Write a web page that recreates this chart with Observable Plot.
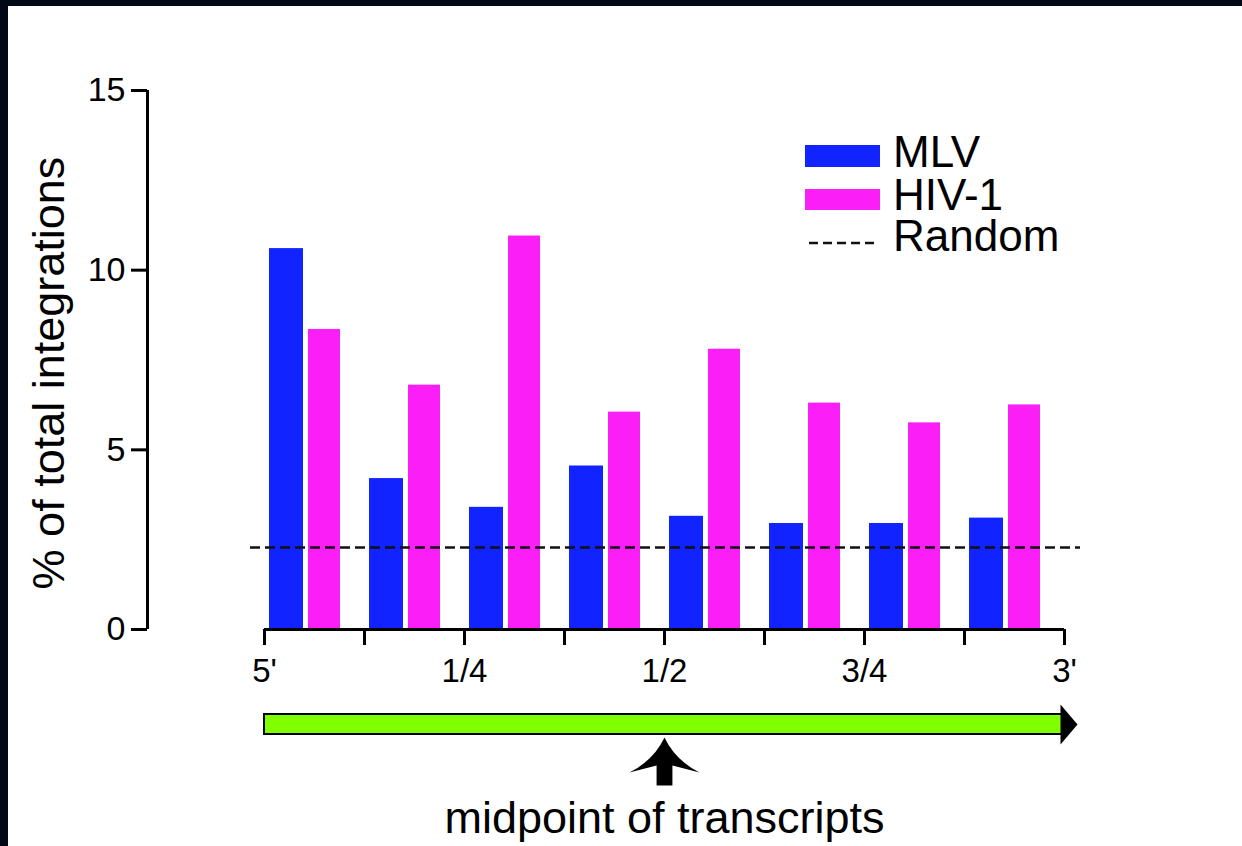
<!DOCTYPE html>
<html>
<head>
<meta charset="utf-8">
<script src="https://cdn.jsdelivr.net/npm/d3@7"></script>
<script src="https://cdn.jsdelivr.net/npm/@observablehq/plot@0.6"></script>
<style>
  html, body { margin: 0; padding: 0; background: #020816; width: 1242px; height: 846px; overflow: hidden; }
  #frame { position: absolute; left: 8px; top: 6px; width: 1234px; height: 840px; background: #fff; overflow: hidden;
           font-family: "Liberation Sans", Arial, Helvetica, sans-serif; color: #000; }
  #chart, #gene { position: absolute; left: 0; }
  #chart { top: 0; }
  #gene { top: 690px; }
  #ytitle { position: absolute; left: -209px; top: 342px; width: 500px; height: 50px; line-height: 50px;
            font-size: 45px; text-align: center; white-space: nowrap; transform: rotate(-90deg); }
  .legend-row { position: absolute; left: 797px; height: 36px; }
  .legend-label { position: absolute; left: 88px; top: 0; font-size: 44px; line-height: 36px; white-space: nowrap; }
  .swatch { position: absolute; left: 0; width: 75px; }
</style>
</head>
<body>
<div id="frame">
  <div id="chart"></div>
  <div id="gene"></div>
</div>
<script>
// Position along the transcript (fraction of length), split into eight bins
const binEdges = [0, 0.125, 0.25, 0.375, 0.5, 0.625, 0.75, 0.875, 1];
const xTickLabels = ["5'", "", "1/4", "", "1/2", "", "3/4", "", "3'"];

// Percent of total integrations in each bin
const seriesNames = ["MLV", "HIV-1"];
const seriesColors = ["#1123ff", "#fb1ef7"];
const mlvValues = [10.6, 4.2, 3.4, 4.55, 3.15, 2.95, 2.95, 3.1];
const hivValues = [8.35, 6.8, 10.95, 6.05, 7.8, 6.3, 5.75, 6.25];
const randomLevel = 2.28;

const yTicks = [0, 5, 10, 15];
const yLabel = "% of total integrations";

const transcript = [{start: 0, end: 1, midpoint: 0.5, label: "midpoint of transcripts"}];

const font = '"Liberation Sans", Arial, Helvetica, sans-serif';
const tickLabelMap = new Map(binEdges.map((v, i) => [v, xTickLabels[i]]));

const rows = (values, name) => values.map((value, i) => ({
  start: binEdges[i], end: binEdges[i + 1], value, series: name
}));
const mlvRows = rows(mlvValues, seriesNames[0]);
const hivRows = rows(hivValues, seriesNames[1]);

const axisShift = -117; // y axis sits to the left of the 5' end

const chart = Plot.plot({
  width: 1234,
  height: 690,
  marginLeft: 256,
  marginRight: 178,
  marginTop: 84,
  marginBottom: 67,
  style: {fontFamily: font, color: "#000", background: "transparent", overflow: "visible"},
  x: {domain: [0, 1]},
  y: {domain: [0, 15]},
  marks: [
    Plot.rectY(mlvRows, {x1: "start", x2: "end", y: "value", fill: seriesColors[0], insetLeft: 5, insetRight: 61}),
    Plot.rectY(hivRows, {x1: "start", x2: "end", y: "value", fill: seriesColors[1], insetLeft: 44, insetRight: 24}),
    Plot.ruleY([randomLevel], {stroke: "#111", strokeWidth: 2.5, strokeDasharray: "10,5", insetLeft: -14, insetRight: -16}),
    Plot.ruleY([0], {strokeWidth: 3}),
    Plot.ruleX([0], {strokeWidth: 3, dx: axisShift}),
    Plot.axisX({ticks: binEdges, tickSize: 16, tickPadding: 13, strokeWidth: 3, fontSize: 33,
      tickFormat: d => tickLabelMap.get(d) ?? "", label: null}),
    Plot.axisY({ticks: yTicks, tickSize: 16, tickPadding: 6, strokeWidth: 3, fontSize: 34,
      dx: axisShift, label: null})
  ]
});
document.getElementById("chart").appendChild(chart);

const frame = document.getElementById("frame");

// Y axis title
const title = document.createElement("div");
title.id = "ytitle";
title.textContent = yLabel;
frame.appendChild(title);

// Legend
const legendRows = [
  {name: seriesNames[0], color: seriesColors[0], top: 128, swatchTop: 11, swatchHeight: 22},
  {name: seriesNames[1], color: seriesColors[1], top: 171, swatchTop: 12, swatchHeight: 21},
  {name: "Random", color: null, top: 212, swatchTop: 20}
];
for (const r of legendRows) {
  const row = document.createElement("div");
  row.className = "legend-row";
  row.style.top = r.top + "px";
  if (r.color) {
    const sw = document.createElement("div");
    sw.className = "swatch";
    sw.style.background = r.color;
    sw.style.top = r.swatchTop + "px";
    sw.style.height = r.swatchHeight + "px";
    row.appendChild(sw);
  } else {
    const svgNS = "http://www.w3.org/2000/svg";
    const svg = document.createElementNS(svgNS, "svg");
    svg.setAttribute("width", "80");
    svg.setAttribute("height", "10");
    svg.style.position = "absolute";
    svg.style.left = "0px";
    svg.style.top = r.swatchTop + "px";
    const line = document.createElementNS(svgNS, "line");
    line.setAttribute("x1", "4"); line.setAttribute("x2", "72");
    line.setAttribute("y1", "5"); line.setAttribute("y2", "5");
    line.setAttribute("stroke", "#111");
    line.setAttribute("stroke-width", "2.5");
    line.setAttribute("stroke-dasharray", "9,5");
    svg.appendChild(line);
    row.appendChild(svg);
  }
  const label = document.createElement("div");
  label.className = "legend-label";
  label.textContent = r.name;
  row.appendChild(label);
  frame.appendChild(row);
}

// Transcript diagram: gene arrow with the midpoint marked
const headSymbol = {
  draw(ctx, size) {
    const r = Math.sqrt(size / Math.PI);
    ctx.moveTo(-0.2 * r, -r);
    ctx.lineTo(0.65 * r, 0);
    ctx.lineTo(-0.2 * r, r);
    ctx.closePath();
  }
};
const pointerSymbol = {
  draw(ctx, size) {
    const r = Math.sqrt(size / Math.PI);
    ctx.moveTo(0, -r);
    ctx.quadraticCurveTo(0.45 * r, -0.05 * r, 1.46 * r, 0.46 * r);
    ctx.lineTo(0.33 * r, 0.17 * r);
    ctx.lineTo(0.33 * r, r);
    ctx.lineTo(-0.33 * r, r);
    ctx.lineTo(-0.33 * r, 0.17 * r);
    ctx.lineTo(-1.46 * r, 0.46 * r);
    ctx.quadraticCurveTo(-0.45 * r, -0.05 * r, 0, -r);
    ctx.closePath();
  }
};

const gene = Plot.plot({
  width: 1234,
  height: 150,
  marginLeft: 256,
  marginRight: 178,
  marginTop: 18,
  marginBottom: 112,
  style: {fontFamily: font, color: "#000", background: "transparent", overflow: "visible"},
  x: {domain: [0, 1], axis: null},
  marks: [
    Plot.rect(transcript, {x1: "start", x2: "end", fill: "#80ff00", stroke: "#000", strokeWidth: 2}),
    Plot.dot(transcript, {x: "end", symbol: headSymbol, r: 20, fill: "#000", stroke: null}),
    Plot.dot(transcript, {x: "midpoint", frameAnchor: "bottom", dy: 27, symbol: pointerSymbol, r: 24, fill: "#000", stroke: null}),
    Plot.text(transcript, {x: "midpoint", text: "label", frameAnchor: "bottom", dy: 98, fontSize: 45, fill: "#000"})
  ]
});
document.getElementById("gene").appendChild(gene);
</script>
</body>
</html>
